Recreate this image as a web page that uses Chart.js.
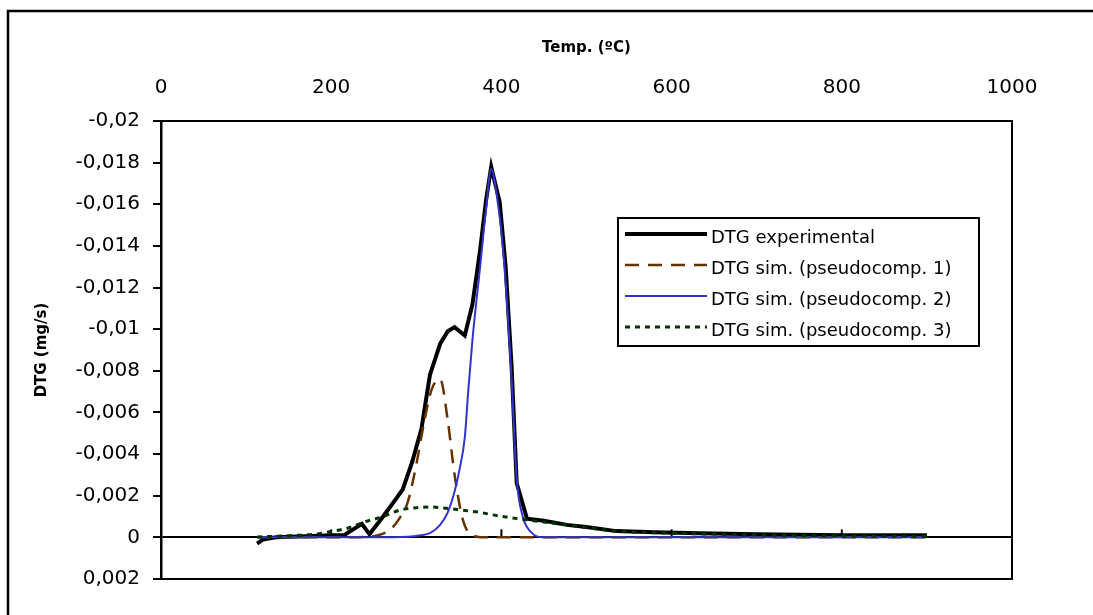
<!DOCTYPE html>
<html>
<head>
<meta charset="utf-8">
<script src="https://cdn.jsdelivr.net/npm/chart.js@4/dist/chart.umd.min.js"></script>
<style>
  body { margin: 0; background: #fff; }
</style>
</head>
<body>
<canvas id="chart" width="1093" height="615"></canvas>
<script>
// DTG experimental
const expTemp = [113, 120, 135, 170, 200, 215, 236, 245, 261, 277, 284, 295, 306, 316, 328, 337, 345, 357, 366, 375, 382, 388, 398, 405, 412, 418, 430, 450, 477, 500, 535, 580, 633, 700, 750, 800, 850, 900];
const expDtg = [0.0003, 0.0001, 0, -0.00005, -0.0001, -0.0001, -0.00065, -0.00015, -0.001, -0.0019, -0.0023, -0.0036, -0.0052, -0.0078, -0.0093, -0.0099, -0.0101, -0.0097, -0.0112, -0.0138, -0.0162, -0.0178, -0.0161, -0.013, -0.0082, -0.0026, -0.0009, -0.0008, -0.0006, -0.0005, -0.0003, -0.00025, -0.0002, -0.00015, -0.00012, -0.0001, -0.0001, -0.0001];

// DTG sim. (pseudocomp. 1)
const sim1Temp = [113, 200, 240, 255, 270, 280, 290, 300, 310, 318, 328, 337, 345, 355, 366, 380, 450, 600, 900];
const sim1Dtg = [0, 0, -0.00002, -0.0001, -0.0004, -0.0009, -0.0017, -0.0035, -0.0057, -0.0071, -0.0076, -0.0056, -0.003, -0.0008, -0.0001, 0, 0, 0, 0];

// DTG sim. (pseudocomp. 2)
const sim2Temp = [113, 250, 290, 305, 316, 328, 337, 345, 351, 357, 361, 366, 375, 382, 388, 395, 402, 407, 412, 418, 425, 430, 439, 450, 600, 900];
const sim2Dtg = [0, 0, -0.00003, -0.0001, -0.0002, -0.0006, -0.0012, -0.0022, -0.0033, -0.0048, -0.007, -0.0095, -0.013, -0.0158, -0.0177, -0.0163, -0.0138, -0.011, -0.0076, -0.0028, -0.001, -0.0005, -0.0001, 0, 0, 0];

// DTG sim. (pseudocomp. 3)
const sim3Temp = [113, 150, 180, 202, 220, 240, 261, 280, 300, 316, 335, 355, 375, 394, 430, 477, 535, 600, 700, 800, 900];
const sim3Dtg = [-0.00002, -0.00008, -0.00015, -0.0003, -0.00045, -0.00075, -0.001, -0.0013, -0.00142, -0.00146, -0.0014, -0.0013, -0.0012, -0.00105, -0.00084, -0.0006, -0.0003, -0.0002, -0.00012, -0.00007, -0.00004];

const seriesLabels = ["DTG experimental", "DTG sim. (pseudocomp. 1)", "DTG sim. (pseudocomp. 2)", "DTG sim. (pseudocomp. 3)"];

function toPoints(xs, ys) {
  return xs.map((x, i) => ({ x: x, y: ys[i] }));
}

function formatNum(v) {
  let n = Number(v.toFixed(4));
  if (Math.abs(n) < 1e-9) return "0";
  return n.toString().replace(".", ",");
}

const fontFamily = "'DejaVu Sans', sans-serif";

// box + zero-line ticks + outer frame
const framePlugin = {
  id: "frame",
  beforeDatasetsDraw(chart) {
    const ctx = chart.ctx;
    const a = chart.chartArea;
    const xs = chart.scales.x;
    const ys = chart.scales.y;
    ctx.save();
    ctx.strokeStyle = "#000";
    ctx.lineWidth = 2;
    ctx.strokeRect(a.left, a.top, a.right - a.left, a.bottom - a.top);
    let y0 = ys.getPixelForValue(0);
    ctx.lineWidth = 2;
    xs.ticks.forEach((t) => {
      let px = xs.getPixelForValue(t.value);
      ctx.beginPath();
      ctx.moveTo(px, y0);
      ctx.lineTo(px, y0 - 8);
      ctx.stroke();
    });
    ctx.restore();
  },
  afterDraw(chart) {
    const ctx = chart.ctx;
    ctx.save();
    ctx.strokeStyle = "#000";
    ctx.lineWidth = 2.5;
    ctx.strokeRect(8, 11, chart.width + 20, chart.height + 20);
    ctx.restore();
  },
};

// legend box inside the plot
const legendPlugin = {
  id: "boxLegend",
  afterDatasetsDraw(chart) {
    const ctx = chart.ctx;
    const left = 618, top = 218, w = 361, h = 128;
    ctx.save();
    ctx.fillStyle = "#fff";
    ctx.fillRect(left, top, w, h);
    ctx.strokeStyle = "#000";
    ctx.lineWidth = 2;
    ctx.strokeRect(left, top, w, h);
    ctx.font = "18px " + fontFamily;
    ctx.textBaseline = "middle";
    ctx.textAlign = "left";
    chart.data.datasets.forEach((ds, i) => {
      let yc = top + 20 + i * 31;
      ctx.beginPath();
      ctx.strokeStyle = ds.borderColor;
      ctx.lineWidth = ds.borderWidth;
      ctx.setLineDash(ds.borderDash || []);
      ctx.moveTo(left + 7, yc - 4);
      ctx.lineTo(left + 89, yc - 4);
      ctx.stroke();
      ctx.setLineDash([]);
      ctx.fillStyle = "#000";
      ctx.fillText(ds.label, left + 93, yc);
    });
    ctx.restore();
  },
};

new Chart(document.getElementById("chart"), {
  type: "line",
  data: {
    datasets: [
      {
        label: seriesLabels[0],
        data: toPoints(expTemp, expDtg),
        borderColor: "#000000",
        borderWidth: 4,
        pointRadius: 0,
        tension: 0,
        order: 4,
      },
      {
        label: seriesLabels[1],
        data: toPoints(sim1Temp, sim1Dtg),
        borderColor: "#663300",
        borderWidth: 2.5,
        borderDash: [14, 9],
        pointRadius: 0,
        cubicInterpolationMode: "monotone",
        order: 3,
      },
      {
        label: seriesLabels[2],
        data: toPoints(sim2Temp, sim2Dtg),
        borderColor: "#3333CC",
        borderWidth: 2,
        pointRadius: 0,
        cubicInterpolationMode: "monotone",
        order: 2,
      },
      {
        label: seriesLabels[3],
        data: toPoints(sim3Temp, sim3Dtg),
        borderColor: "#003300",
        borderWidth: 3,
        borderDash: [5, 5],
        pointRadius: 0,
        cubicInterpolationMode: "monotone",
        order: 1,
      },
    ],
  },
  options: {
    responsive: false,
    animation: false,
    devicePixelRatio: 1,
    layout: { padding: { left: 10, top: 10, right: 81, bottom: 36 } },
    plugins: {
      legend: { display: false },
      tooltip: { enabled: false },
    },
    scales: {
      x: {
        type: "linear",
        position: "top",
        min: 0,
        max: 1000,
        afterFit(scale) {
          scale.height = 111;
        },
        grid: { display: false, drawTicks: false },
        border: { display: false },
        ticks: {
          stepSize: 200,
          padding: 21,
          color: "#000",
          font: { family: fontFamily, size: 20 },
          maxRotation: 0,
          callback: (v) => String(v),
        },
        title: {
          display: true,
          text: "Temp. (ºC)",
          color: "#000",
          font: { family: fontFamily, size: 15, weight: "bold" },
          padding: { top: 29, bottom: 0 },
        },
      },
      y: {
        type: "linear",
        reverse: true,
        min: -0.02,
        max: 0.002,
        afterFit(scale) {
          scale.width = 151;
        },
        grid: {
          color: (c) => (c.tick && Math.abs(c.tick.value) < 1e-9 ? "#000" : "rgba(0,0,0,0)"),
          lineWidth: 2,
          tickColor: "#000",
          tickWidth: 2,
          tickLength: 8,
        },
        border: { display: true, color: "#000", width: 2.5 },
        ticks: {
          stepSize: 0.002,
          padding: 13,
          color: "#000",
          font: { family: fontFamily, size: 20 },
          callback: (v) => formatNum(v),
        },
        title: {
          display: true,
          text: "DTG (mg/s)",
          color: "#000",
          font: { family: fontFamily, size: 15, weight: "bold" },
          padding: { top: 23, bottom: 0 },
        },
      },
    },
  },
  plugins: [framePlugin, legendPlugin],
});
</script>
</body>
</html>
